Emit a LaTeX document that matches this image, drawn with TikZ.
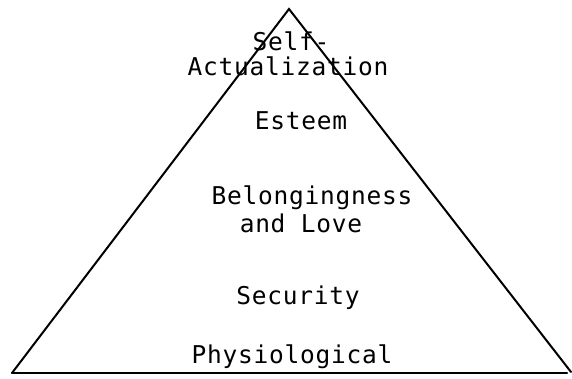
\documentclass[tikz,border=0pt]{standalone}
\usepackage{fontspec}
\newfontfamily\typew[LetterSpace=3]{DejaVu Sans Mono}
\begin{document}
\begin{tikzpicture}[x=1pt,y=-1pt,
  lbl/.style={font=\typew\fontsize{24.5}{29}\selectfont, anchor=base, inner sep=0pt},
  edge/.style={line width=2pt, line cap=round}]
\useasboundingbox (0,0) rectangle (572,379);
\coordinate (apex) at (289,9);
\coordinate (bl) at (12,373);
\coordinate (br) at (571,372);
\coordinate (bre) at (567,373);
\draw[edge] (bl) -- (apex) -- (br);
\draw[edge] (bl) -- (bre);
\node[lbl] (self) at (291,51) {Self-};
\node[lbl] (act) at (288,76) {Actualization};
\node[lbl] (est) at (301,130) {Esteem};
\node[lbl] (bel) at (312,205) {Belongingness};
\node[lbl] (love) at (301,233) {and Love};
\node[lbl] (sec) at (298,304) {Security};
\node[lbl] (phy) at (292,363) {Physiological};
\end{tikzpicture}
\end{document}
